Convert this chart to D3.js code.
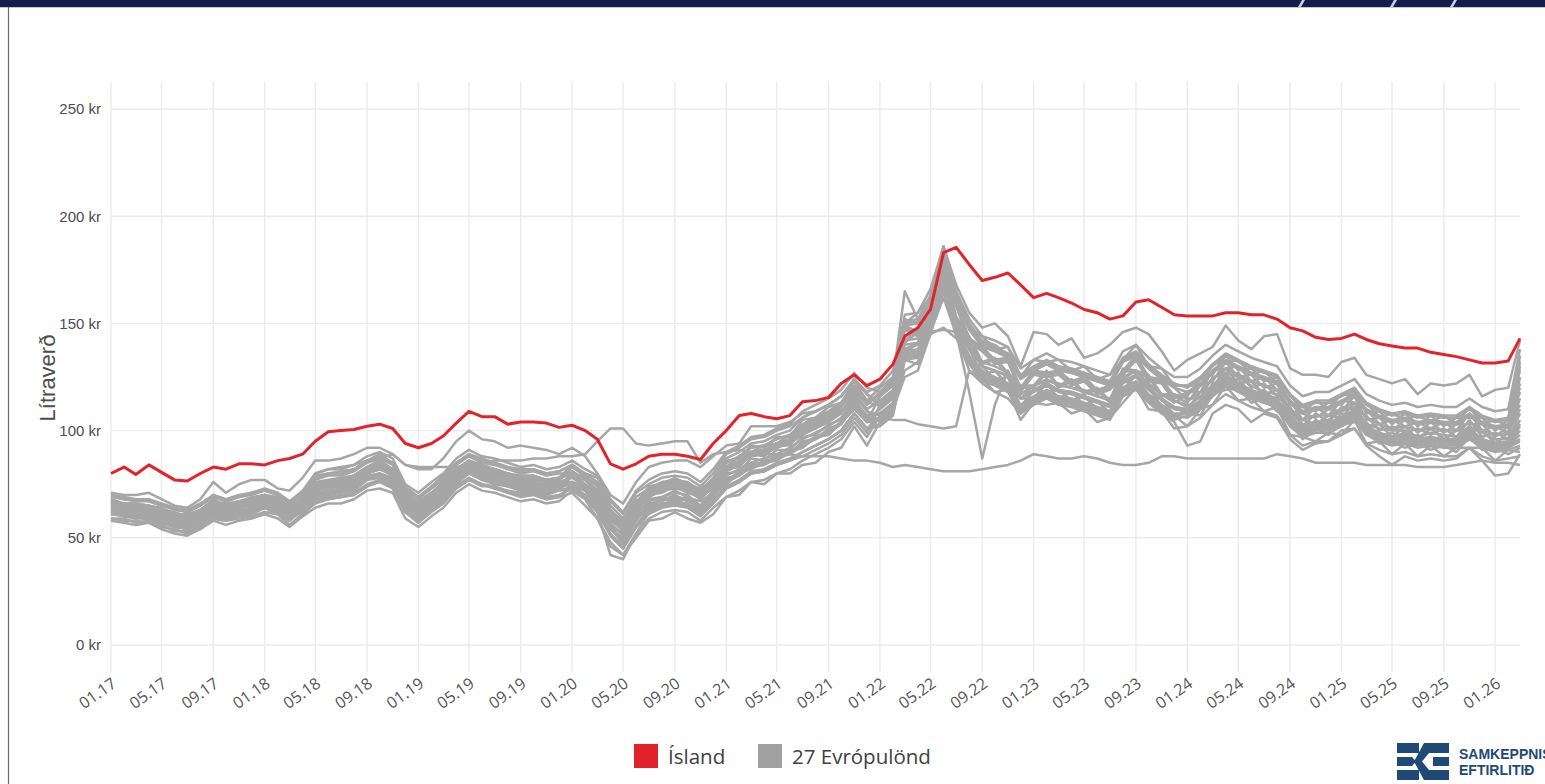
<!DOCTYPE html>
<html>
<head>
<meta charset="utf-8">
<script src="https://cdn.jsdelivr.net/npm/d3@7"></script>
<style>
  body { margin: 0; background: #fff; }
  svg { display: block; }
</style>
</head>
<body>
<script>
// monthly litre price (kr), 01.17 - 03.26
const island = [80,83,79.5,84,80.5,77,76.5,80,83,82,
  84.5,84.5,84,86,87,89,95,99.5,100,100.5,
  102,103,101,94,92,94,97.5,103.5,109,106.5,
  106.5,103,104,104,103.5,101.5,102.5,100,96,84.5,
  82,84.5,88,89,89,88,86.5,94,100,107,
  108,106.5,105.5,107,113.5,114,115.5,122,126,121,
  124,131,144,148,156.5,183,185.5,177.5,170,171.5,
  173.5,168,162,164,162,159.5,156.5,155,152,153.5,
  160,161,157.5,154,153.5,153.5,153.5,155,155,154,
  154,152,148,146.5,143.5,142.5,143,145,142.5,140.5,
  139.5,138.5,138.5,136.5,135.5,134.5,133,131.5,131.5,132.5,
  143];

// 27 European countries, one array each
const g01 = [58,57,56,57,54,52,51,54,58,56,58,59,61,59,55,60,64,66,66,68,72,73,71,59,55,60,64,71,75,72,71,69,67,68,66,67,72,68,59,48,42,52,59,62,63,62,58,64,69,72,76,77,80,82,86,89,92,96,104,97,107,112,138,141,148,170,151,132,130,124,125,111,119,118,119,114,116,110,112,119,126,116,115,107,108,107,117,119,120,113,115,109,104,96,101,98,103,104,99,94,95,92,94,91,93,90,97,91,92,89,92];
const g02 = [59,58,58,57,55,54,52,55,59,58,59,60,62,61,56,61,66,68,69,70,74,76,73,62,57,62,66,73,77,74,74,71,69,70,68,69,71,65,59,46,42,50,58,59,62,59,57,61,69,70,76,75,80,80,84,85,90,92,102,93,104,109,135,136,147,167,146,133,125,123,120,110,114,117,114,113,111,109,107,118,121,115,110,106,110,114,120,125,122,119,117,115,106,101,103,103,106,109,102,99,97,98,96,97,96,96,100,96,94,95,105];
const g03 = [61,60,59,59,57,55,54,57,61,59,61,62,64,62,58,63,67,69,69,71,75,77,74,62,58,63,67,74,78,75,74,72,70,71,69,70,73,69,62,51,45,55,62,65,66,65,61,67,73,76,80,81,84,86,90,93,96,100,108,101,102,107,133,131,146,162,145,128,124,118,119,105,113,112,113,108,110,104,106,113,120,110,109,101,102,110,112,121,114,115,109,111,98,97,95,99,98,105,94,95,89,94,88,93,88,92,92,92,86,91,90];
const g04 = [62,60,60,58,57,56,54,56,61,60,61,61,64,63,59,62,68,69,70,71,74,77,75,62,59,63,68,74,77,75,73,72,71,71,69,69,75,73,65,56,48,60,64,69,68,69,63,71,76,81,83,86,87,91,92,97,98,104,110,105,105,110,136,137,148,168,147,134,126,124,121,111,115,118,115,114,112,110,108,119,122,116,111,107,102,106,112,117,114,111,109,107,98,93,95,95,98,101,94,91,89,90,88,89,88,88,92,88,86,87,88];
const g05 = [61,61,59,60,57,55,55,57,60,59,62,62,64,61,58,63,69,71,71,73,77,79,76,64,60,65,69,76,80,77,76,74,72,73,71,72,73,69,62,51,45,55,61,64,65,64,60,66,73,76,80,81,84,86,88,91,94,98,106,99,112,117,142,147,154,178,153,144,132,134,127,121,121,128,121,124,118,120,114,129,128,126,117,117,115,115,125,126,127,120,122,116,111,102,108,104,111,110,107,100,102,99,101,98,101,97,105,97,99,96,125];
const g06 = [62,61,60,60,58,56,55,58,62,60,62,63,65,63,59,64,70,71,72,73,77,80,76,65,60,65,70,76,80,78,76,74,73,73,71,72,79,73,69,56,52,60,68,69,72,69,67,71,80,81,87,86,91,91,97,98,103,105,115,106,108,113,140,141,152,172,151,138,130,128,125,115,119,122,119,118,116,114,112,123,126,120,115,111,108,112,118,123,120,117,115,113,104,99,101,101,104,107,100,97,95,96,94,95,94,94,98,94,92,93,98];
const g07 = [63,61,60,61,58,56,56,58,62,61,62,63,66,63,60,64,70,72,72,74,78,80,77,65,61,66,70,77,81,78,77,75,73,74,72,73,81,77,71,60,54,64,70,73,74,73,69,75,82,85,89,90,93,95,99,102,105,109,117,110,114,119,149,146,161,177,160,143,139,133,134,120,128,127,128,123,125,119,121,128,135,125,124,116,113,121,123,132,125,126,120,122,109,108,106,110,109,116,105,106,100,105,99,104,99,103,103,103,97,102,130];
const g08 = [65,63,63,62,60,59,57,60,64,63,64,65,68,65,62,66,72,74,74,76,80,82,79,67,63,68,72,79,83,80,79,77,75,76,74,75,74,72,64,55,47,59,63,68,67,68,62,70,75,80,82,85,86,90,92,97,98,104,110,105,110,115,142,143,154,174,153,140,132,130,127,117,121,124,121,120,118,116,114,125,128,122,117,113,117,121,127,132,129,126,124,122,113,108,110,110,113,116,109,106,104,105,103,104,103,103,107,103,101,102,118];
const g09 = [63,64,62,63,61,58,58,61,64,62,65,65,67,66,61,67,73,74,75,76,80,83,79,68,63,68,73,79,83,81,79,77,76,76,74,75,79,75,70,59,53,63,69,72,73,72,68,74,81,84,88,89,92,94,98,101,104,108,116,109,107,112,136,141,148,172,147,138,126,128,121,115,115,122,115,118,112,114,108,123,122,120,111,111,110,118,120,129,122,123,117,119,106,105,103,107,106,113,102,103,97,102,96,101,96,100,100,100,94,99,110];
const g10 = [64,63,61,62,60,58,56,60,65,62,64,66,67,65,60,66,72,73,74,75,80,82,80,67,64,68,72,78,83,80,78,77,75,75,74,76,76,74,67,54,50,58,66,67,70,67,65,69,78,79,85,84,89,89,95,96,101,103,113,104,116,121,149,150,161,181,160,147,139,137,134,124,128,131,128,127,125,123,121,132,135,129,124,120,114,118,124,129,126,123,121,119,110,105,107,107,110,113,106,103,101,102,100,101,100,100,104,100,98,99,135];
const g11 = [66,65,64,64,62,60,59,62,66,64,66,67,69,67,63,68,74,76,76,78,82,84,81,69,65,70,74,81,85,82,81,79,77,78,76,77,83,79,74,63,57,67,72,75,76,75,71,77,85,88,92,93,96,98,102,105,108,112,120,113,112,117,147,144,159,175,158,141,137,131,132,118,126,125,126,121,123,117,119,126,133,123,122,114,112,112,122,123,124,117,119,113,108,99,105,101,108,107,104,97,99,96,98,95,98,94,102,94,96,93,100];
const g12 = [67,65,65,64,62,61,59,63,66,65,67,67,70,67,64,68,75,77,77,79,83,85,82,70,66,71,75,82,86,83,82,80,78,79,77,78,81,75,71,58,54,62,70,71,74,71,69,73,82,83,89,88,93,93,100,101,106,108,118,109,104,109,134,135,146,166,145,132,124,122,119,109,113,116,113,112,110,108,106,117,120,114,109,105,107,111,117,122,119,116,114,112,103,98,100,100,103,106,99,96,94,95,93,94,93,93,97,93,91,92,95];
const g13 = [67,66,65,65,63,61,60,63,67,65,67,68,70,68,64,69,76,77,78,79,83,86,82,71,66,71,76,82,86,84,82,80,79,79,77,78,84,80,76,65,59,69,73,76,77,76,72,78,87,90,94,95,98,100,106,109,112,116,124,117,111,116,141,146,153,177,152,143,131,133,126,120,120,127,120,123,117,119,113,128,127,125,116,116,116,124,126,135,128,129,123,125,112,111,109,113,112,119,108,109,103,108,102,107,102,106,106,106,100,105,128];
const g14 = [68,66,66,65,63,62,60,63,68,65,67,69,70,68,65,69,77,79,79,81,85,87,84,72,68,73,77,84,88,85,84,82,80,81,79,80,80,78,72,63,55,67,69,74,73,74,68,76,83,88,90,93,94,98,100,105,106,112,118,113,117,122,151,152,163,183,162,149,141,139,136,126,130,133,130,129,127,125,123,134,137,131,126,122,120,124,130,135,132,129,127,125,116,111,113,113,116,119,112,109,107,108,106,107,106,106,110,106,104,105,120];
const g15 = [69,68,67,67,65,63,62,65,69,67,69,70,72,70,66,71,78,80,80,82,86,88,85,73,69,74,78,85,89,86,85,83,81,82,80,81,84,80,78,67,61,71,75,78,79,78,74,80,89,92,96,97,100,102,106,109,112,116,124,117,113,118,148,145,160,176,159,142,138,132,133,119,127,126,127,122,124,118,120,127,134,124,123,115,118,118,128,129,130,123,125,119,114,105,111,107,114,113,110,103,105,102,104,101,104,100,108,100,102,99,115];
const g16 = [70,68,68,67,65,64,62,65,70,67,69,71,72,70,67,71,79,80,81,82,86,89,85,74,69,74,79,85,89,87,85,83,82,82,80,81,84,78,75,62,58,66,74,75,78,75,73,77,86,87,93,92,97,97,105,106,111,113,123,114,116,121,150,151,162,182,161,148,140,138,135,125,129,132,129,128,126,124,122,133,136,130,125,121,121,125,131,136,133,130,128,126,117,112,114,114,117,120,113,110,108,109,107,108,107,107,111,107,105,106,132];
const g17 = [70,69,68,68,66,64,63,66,70,68,70,71,73,71,67,72,80,82,82,84,88,90,87,75,71,76,80,87,91,88,87,85,83,84,82,83,86,82,79,68,62,72,77,80,81,80,76,82,90,93,97,98,101,103,109,112,115,119,127,120,118,123,150,155,162,182,165,148,144,138,139,125,133,132,133,128,130,124,126,133,140,130,129,121,121,121,131,132,133,126,128,122,117,108,114,110,117,116,113,106,108,105,107,104,107,103,111,103,105,102,112];
const g18 = [71,70,70,71,68,65,64,68,76,71,75,77,77,73,72,78,86,86,87,89,92,92,89,84,82,82,87,95,100,96,95,92,93,92,91,89,92,88,80,70,66,76,83,85,86,86,83,88,93,94,102,102,102,104,108,109,112,116,124,118,121,128,152,150,163,186,168,155,148,150,144,130,146,145,140,143,134,136,140,146,148,145,137,128,133,136,139,149,142,138,144,145,129,126,126,125,132,134,126,124,122,124,117,122,121,122,126,116,119,120,142];
const g19 = [67,66,66,65,64,61,61,63,67,66,67,68,70,69,64,70,80,82,83,84,86,87,89,84,83,83,83,83,84,85,86,86,86,87,87,88,88,89,95,101,101,94,93,94,95,95,85,89,90,91,90,89,89,89,88,88,88,87,86,86,85,83,84,83,82,81,81,81,82,83,84,86,89,88,87,87,88,87,85,84,84,85,88,88,87,87,87,87,87,87,87,89,88,87,85,85,85,85,84,84,84,84,83,83,83,84,85,86,85,85,84];
const g20 = [66,65,63,64,62,60,59,61,66,64,66,67,69,68,63,68,75,76,77,79,83,84,82,71,66,71,75,81,86,83,82,80,78,78,77,78,81,77,72,61,55,65,71,74,75,74,70,76,83,86,90,91,94,96,101,104,107,111,119,112,118,124,165,152,162,181,162,150,142,140,135,125,128,131,128,127,125,123,121,132,135,129,124,120,118,122,128,133,130,127,125,123,114,109,111,111,114,117,110,107,105,106,104,105,104,104,108,104,102,103,122];
const g21 = [63,63,61,61,60,57,56,59,62,61,63,64,66,65,60,65,70,72,72,74,78,80,77,65,61,66,70,77,81,78,77,75,73,74,72,73,76,72,66,55,49,59,65,68,69,68,64,70,77,80,84,85,88,90,94,97,100,104,112,105,108,112,138,140,150,170,146,118,87,112,128,115,118,121,118,117,115,113,111,122,125,119,114,110,109,113,119,124,121,118,116,114,105,100,102,102,105,108,101,98,96,97,95,96,95,95,99,95,93,94,102];
const g22 = [59,59,57,58,56,53,53,55,59,58,60,60,62,61,56,61,67,68,69,70,74,77,73,62,57,63,66,73,77,75,73,71,70,70,68,69,74,70,63,52,46,56,63,66,67,66,62,68,74,77,81,82,85,87,90,93,96,100,108,101,103,108,133,134,145,165,144,131,123,121,118,108,112,115,112,111,109,107,105,116,119,113,108,104,93,95,108,112,110,104,108,106,96,91,94,95,100,101,93,88,84,88,86,87,86,87,92,86,79,80,89];
const g23 = [61,61,60,59,58,55,55,58,62,59,62,63,64,63,58,64,69,70,71,72,77,78,76,63,60,64,69,75,80,77,75,74,72,72,70,72,74,70,62,42,40,52,62,65,66,65,61,66,73,76,80,81,84,86,90,93,96,100,108,101,106,111,137,138,149,169,148,135,127,125,122,112,116,119,116,115,113,111,109,120,123,117,112,108,108,113,118,124,120,118,115,114,104,100,101,102,104,108,100,98,95,97,94,96,95,94,99,94,93,93,96];
const g24 = [65,64,63,64,61,59,59,61,65,63,65,66,68,67,62,67,74,75,76,77,82,83,81,69,66,70,74,80,85,82,80,79,77,77,76,77,81,77,72,61,55,65,70,73,74,73,69,75,83,86,90,91,94,96,100,103,106,110,110,104,106,105,105,103,102,101,102,128,122,118,115,108,115,118,115,114,112,110,108,119,122,116,111,107,106,110,116,121,118,115,113,111,102,97,99,99,102,105,98,95,93,94,92,93,92,92,96,92,90,91,93];
const g25 = [64,64,63,62,61,59,58,61,65,63,64,66,68,66,62,66,73,74,75,77,81,82,80,68,64,69,73,80,84,81,80,78,76,76,75,76,78,74,68,57,51,61,67,69,71,70,65,72,79,82,85,87,89,92,96,99,102,106,114,107,108,112,128,132,146,147,146,140,130,128,126,115,121,123,122,120,119,116,115,124,128,121,117,114,111,116,121,127,125,121,118,117,109,103,104,105,109,111,103,101,100,100,97,99,98,97,102,99,96,96,108];
const g26 = [62,62,61,60,59,57,57,59,63,61,62,64,66,64,59,65,71,72,73,75,79,80,78,66,62,67,71,77,82,79,77,76,74,74,73,74,76,72,65,54,48,58,65,68,69,68,64,70,76,79,83,84,87,89,93,96,99,103,111,104,105,110,125,128,145,148,143,134,128,124,122,110,119,122,119,118,116,114,112,123,126,120,115,111,110,113,120,126,122,118,117,114,106,102,103,104,106,110,102,98,97,99,96,97,95,96,101,96,94,94,103];
const g27 = [66,66,64,64,63,60,60,62,66,65,66,67,70,67,63,68,75,76,78,79,83,86,82,70,67,71,75,82,86,84,82,80,78,79,77,78,83,79,74,63,57,67,72,75,76,75,71,77,85,88,92,93,96,98,103,106,109,113,121,114,120,125,154,155,166,186,165,152,144,142,139,129,133,136,133,132,130,128,126,137,140,134,129,125,125,129,135,140,137,134,132,130,121,116,118,118,121,124,117,114,112,113,111,112,111,111,115,111,109,110,138];

const evropulond = [g01,g02,g03,g04,g05,g06,g07,g08,g09,g10,g11,g12,g13,g14,
  g15,g16,g17,g18,g19,g20,g21,g22,g23,g24,g25,g26,g27];

const yTicks = [0, 50, 100, 150, 200, 250];
const legendNames = ["Ísland", "27 Evrópulönd"];
const months = island.map((v, i) => new Date(2017, i, 1));

const red = "#e3232b", grey = "#a6a6a6";

const svg = d3.select("body").append("svg")
  .attr("width", 1545)
  .attr("height", 784);

// header band
svg.append("rect").attr("x", 0).attr("y", 0).attr("width", 1545).attr("height", 7).attr("fill", "#131e4a");
svg.append("line").attr("x1", 0).attr("x2", 1545).attr("y1", 7.5).attr("y2", 7.5)
  .attr("stroke", "#c3c7d6").attr("stroke-width", 1);
[1300, 1392, 1452].forEach(cx => {
  svg.append("polygon")
    .attr("points", `${cx+2},0 ${cx+5},0 ${cx+1},7 ${cx-2},7`)
    .attr("fill", "#c9cde2");
});
// left frame line
svg.append("line").attr("x1", 8.5).attr("x2", 8.5).attr("y1", 7).attr("y2", 784)
  .attr("stroke", "#6b6b6b").attr("stroke-width", 1.2);

const x = d3.scaleTime()
  .domain([months[0], months[months.length - 1]])
  .range([111, 1520]);
const y = d3.scaleLinear().domain([0, 250]).range([645, 109]);

const xTicks = x.ticks(d3.timeMonth.every(4));

// grid
svg.append("g").selectAll("line").data(xTicks).join("line")
  .attr("x1", d => x(d)).attr("x2", d => x(d))
  .attr("y1", 82).attr("y2", 672)
  .attr("stroke", "#ebebeb").attr("stroke-width", 1.4);
svg.append("g").selectAll("line").data(yTicks).join("line")
  .attr("x1", 111).attr("x2", 1520)
  .attr("y1", d => y(d)).attr("y2", d => y(d))
  .attr("stroke", "#ebebeb").attr("stroke-width", 1.4);

// y axis labels
const yAxis = svg.append("g")
  .attr("transform", "translate(111,0)")
  .call(d3.axisLeft(y).tickValues(yTicks).tickSize(0).tickPadding(10).tickFormat(d => d + " kr"));
yAxis.select(".domain").remove();
yAxis.selectAll("text")
  .style("font-family", "'Liberation Sans', Arial, sans-serif")
  .style("font-size", "15px")
  .attr("fill", "#4d4d4d");

// x axis labels
const xAxis = svg.append("g")
  .call(d3.axisBottom(x).tickValues(xTicks).tickSize(0).tickFormat(d3.timeFormat("%m.%y")));
xAxis.select(".domain").remove();
xAxis.selectAll("text")
  .attr("y", 0).attr("dy", 0)
  .attr("transform", "translate(6,686) rotate(-35)")
  .style("text-anchor", "end")
  .style("font-family", "'Open Sans', sans-serif")
  .style("font-size", "16px")
  .attr("fill", "#555");

// y title
svg.append("text")
  .attr("transform", "translate(55,378) rotate(-90)")
  .attr("text-anchor", "middle")
  .style("font-family", "'Liberation Sans', Arial, sans-serif")
  .style("font-size", "22px")
  .attr("fill", "#4d4d4d")
  .text("Lítraverð");

// lines
const line = d3.line()
  .x((d, i) => x(months[i]))
  .y(d => y(d));

svg.append("g").selectAll("path").data(evropulond).join("path")
  .attr("d", line)
  .attr("fill", "none")
  .attr("stroke", grey)
  .attr("stroke-width", 2.5)
  .attr("stroke-linejoin", "round");

svg.append("path")
  .attr("d", line(island))
  .attr("fill", "none")
  .attr("stroke", red)
  .attr("stroke-width", 3)
  .attr("stroke-linejoin", "round");

// legend
const legend = svg.append("g").attr("transform", "translate(634,744)");
const legX = [0, 124];
legendNames.forEach((name, i) => {
  legend.append("rect")
    .attr("x", legX[i]).attr("y", 0)
    .attr("width", 24).attr("height", 24)
    .attr("fill", i === 0 ? red : "#a0a0a0");
  legend.append("text")
    .attr("x", legX[i] + 34).attr("y", 20)
    .style("font-family", "'Open Sans', sans-serif")
    .style("font-size", "20.5px")
    .attr("fill", "#404040")
    .text(name);
});

// logo
const logo = svg.append("g").attr("fill", "#1e4a75");
logo.append("rect").attr("x", 1397).attr("y", 743).attr("width", 22).attr("height", 10);
logo.append("rect").attr("x", 1397).attr("y", 770).attr("width", 22).attr("height", 10);
logo.append("polygon").attr("points", "1397,757 1412,757 1416,761.5 1412,766 1397,766");
logo.append("polygon").attr("points", "1424,743 1449,743 1449,753 1429,753 1422,761.5 1429,770 1449,770 1449,780 1424,780 1414,761.5");
logo.append("rect").attr("x", 1433).attr("y", 757).attr("width", 16).attr("height", 9);
logo.append("text").attr("x", 1459).attr("y", 759)
  .style("font-family", "'Liberation Sans', Arial, sans-serif")
  .style("font-size", "14px").style("font-weight", "bold")
  .text("SAMKEPPNIS");
logo.append("text").attr("x", 1459).attr("y", 775)
  .style("font-family", "'Liberation Sans', Arial, sans-serif")
  .style("font-size", "14px").style("font-weight", "bold")
  .text("EFTIRLITIÐ");
</script>
</body>
</html>
